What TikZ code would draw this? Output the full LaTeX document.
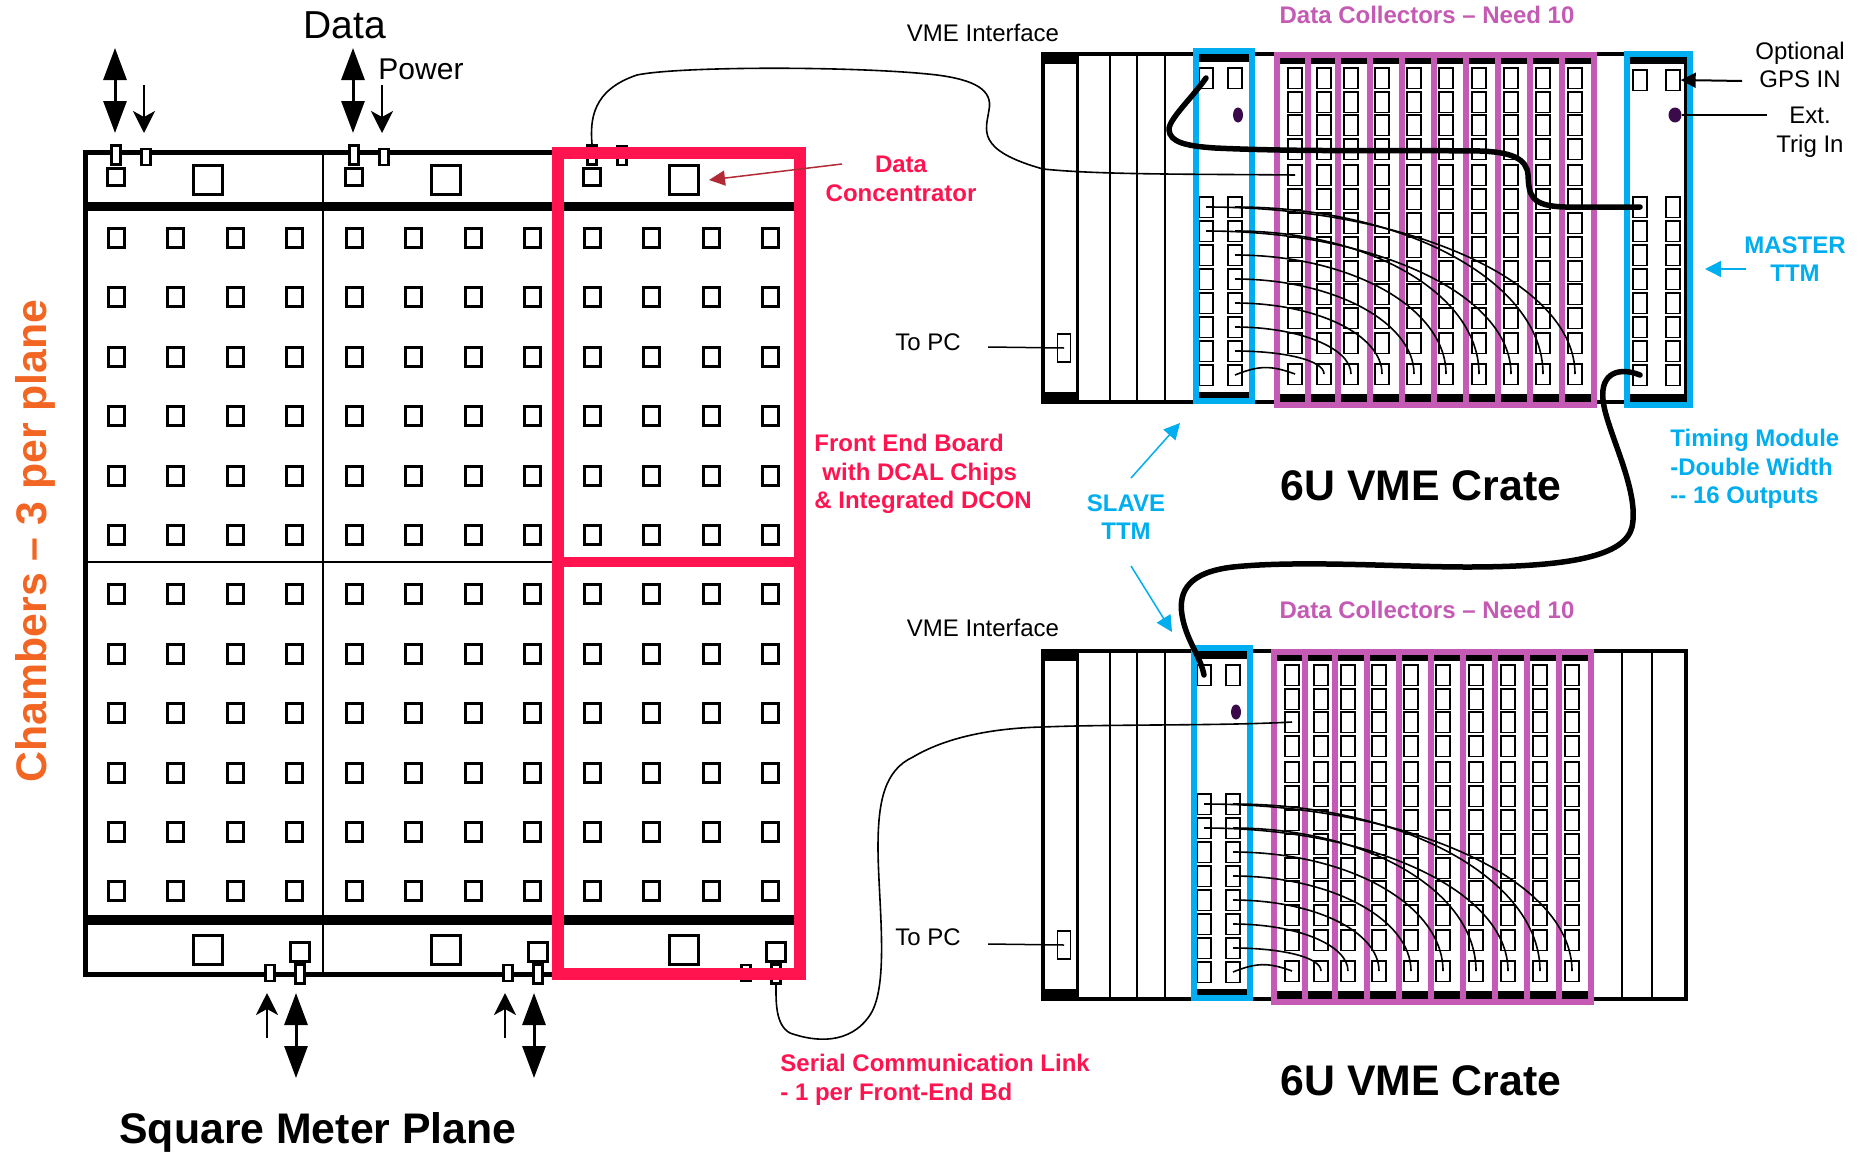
\documentclass[tikz,border=0pt]{standalone}
\usepackage{fontspec}
\setmainfont{Liberation Sans}
\usetikzlibrary{arrows.meta,shapes.geometric}
\definecolor{hotpink}{HTML}{FF1450}
\definecolor{ttmblue}{HTML}{00AEEF}
\definecolor{dcpurple}{HTML}{C45AB3}
\definecolor{chamberorange}{HTML}{F26522}
\definecolor{arrowred}{HTML}{B22A35}
\definecolor{dotpurple}{HTML}{3A0A4A}
\tikzset{
  feboard/.style={draw,line width=1.5pt,fill=white,inner sep=0pt,minimum width=8pt,minimum height=9.5pt},
  dcon/.style={draw,line width=1.5pt,fill=white,inner sep=0pt,minimum size=14.5pt},
  sqport/.style={draw,line width=1.5pt,fill=white,inner sep=0pt,minimum size=8.5pt},
  tabport/.style={draw,line width=1.25pt,fill=white,inner sep=0pt,minimum width=4.5pt,minimum height=9.5pt},
  slot/.style={draw,line width=.9pt,fill=white,inner sep=0pt,minimum width=6.75pt,minimum height=10.4pt},
  dot/.style={ellipse,fill=dotpurple,inner sep=0pt,minimum width=5pt,minimum height=7.5pt},
  wire/.style={line width=.8pt},
  cable/.style={line width=2.75pt,line cap=round},
  bigarrow/.style={line width=1.5pt,{Triangle[length=16pt,width=11.5pt]}-{Triangle[length=16pt,width=11.5pt]}},
  smallarrow/.style={line width=1pt,-{Stealth[length=11pt,width=11pt,inset=3pt]}},
  bluearrow/.style={ttmblue,line width=.75pt,-{Triangle[length=8pt,width=8pt]}},
  txt/.style={font=\fontsize{12}{14.25}\selectfont,inner sep=0pt,align=center},
  boldtxt/.style={txt,font=\fontsize{12}{14.25}\selectfont\bfseries},
  titletxt/.style={inner sep=0pt,font=\fontsize{21.4}{25}\selectfont\bfseries},
}
\begin{document}
\begin{tikzpicture}[x=.5pt,y=-.5pt]
  \useasboundingbox (0,0) rectangle (1866,1151);
  % square meter plane
  \draw[line width=2.5pt] (85,152) rectangle (800,974);
  \fill (85,202) rectangle (800,211);
  \fill (85,915) rectangle (800,925);
  \draw[line width=1pt] (323,152) -- (323,974) (558,152) -- (558,974) (85,562) -- (800,562);
  \foreach \i in {0,...,11}
    \foreach \j in {0,...,11}
      \node[feboard] (fe-\i-\j) at ({116+59.5*\i},{238+59.4*\j}) {};
  \foreach \x/\n/\h in {116/a/8,354/b/8,592/c/9.5} {
    \node[sqport] (topsq-\n) at (\x,177) {};
    \node[tabport] (toptab-\n) at (\x,155) {};
    \node[tabport,minimum height=\h pt,anchor=south] (toppow-\n) at ({\x+30},166) {};
    \node[dcon] (topdcon-\n) at ({\x+92},180) {};
  }
  \foreach \x/\n in {300/a,538/b,776/c} {
    \node[sqport,minimum size=9.5pt] (botsq-\n) at (\x,952) {};
    \node[tabport,minimum height=8pt] (botpow-\n) at ({\x-30},973) {};
    \node[tabport] (bottab-\n) at (\x,974) {};
    \node[dcon] (botdcon-\n) at ({\x-92},950) {};
  }
  \draw[hotpink,line width=6pt] (558,153) rectangle (800,974);
  \draw[hotpink,line width=5pt] (558,562) -- (800,562);
  % power and data arrows
  \foreach \x/\n in {115/a,353/b} {
    \coordinate (dup-\n) at (\x,48);
    \coordinate (ddown-\n) at (\x,133);
    \coordinate (pup-\n) at ({\x+29},85);
    \coordinate (pdown-\n) at ({\x+29},133);
    \draw[bigarrow] (dup-\n) -- (ddown-\n);
    \draw[smallarrow] (pup-\n) -- (pdown-\n);
  }
  \foreach \x/\n in {296/a,534/b} {
    \coordinate (bdup-\n) at (\x,993);
    \coordinate (bddown-\n) at (\x,1078);
    \coordinate (bptail-\n) at ({\x-29},1038);
    \coordinate (bptip-\n) at ({\x-29},993);
    \draw[bigarrow] (bdup-\n) -- (bddown-\n);
    \draw[smallarrow] (bptail-\n) -- (bptip-\n);
  }
  \node[font=\fontsize{19.5}{22}\selectfont,inner sep=0pt] (datatxt) at (345,25) {Data};
  \node[font=\fontsize{15}{18}\selectfont,inner sep=0pt] (powertxt) at (421,69) {Power};
  \node[titletxt] (planetxt) at (318,1132) {Square Meter Plane};
  \node[titletxt,chamberorange,rotate=90] (chambertxt) at (35,541) {Chambers -- 3 per plane};
  % crates, second one is the first one moved down
  \foreach \cr/\sx/\dx/\dy/\ty in {a/0/0/0/0,b/-2/-3/597/595} {
    \begin{scope}[shift={(0,\dy)}]
      \draw[line width=2pt,fill=white] (1043,54) rectangle (1686,402);
      \fill (1042,53) rectangle (1078,64);
      \fill (1042,392) rectangle (1078,403);
      \draw[line width=1.5pt] (1077,53) -- (1077,403);
      \draw[line width=.75pt] (1110,53) -- (1110,403) (1137,53) -- (1137,403) (1165,53) -- (1165,403);
      \node[draw,line width=.75pt,inner sep=0pt,minimum width=6.5pt,minimum height=14pt] (\cr-pc) at (1064,348) {};
      \coordinate (\cr-pcfree) at (988,347);
      \draw[line width=.75pt] (\cr-pcfree) -- (\cr-pc.center);
    \end{scope}
    \begin{scope}[shift={(0,\ty)}]
      \node[txt] (\cr-pctxt) at (928,342) {To PC};
      \node[txt] (\cr-vmetxt) at (983,33) {VME Interface};
      \node[boldtxt,dcpurple] (\cr-dctxt) at (1427,15) {Data Collectors -- Need 10};
      \node[titletxt] (\cr-cratetxt) at (1421,486) {6U VME Crate};
    \end{scope}
    \begin{scope}[shift={(\sx,\dy)}]
      % slave ttm
      \fill[black] (1198,54) rectangle (1252,62);
      \fill[black] (1198,392) rectangle (1252,398);
      \node[slot] (\cr-sltop-1) at (1206,78) {};
      \node[slot] (\cr-sltop-2) at (1235,78) {};
      \node[dot] (\cr-sldot) at (1238,115) {};
      \foreach \y [count=\j] in {207,231,255,279,303,327,351,375} {
        \node[slot] (\cr-sll-\j) at (1206,\y) {};
        \node[slot] (\cr-slr-\j) at (1235,\y) {};
      }
      \draw[ttmblue,line width=3pt] (1196,51) rectangle (1252,401);
    \end{scope}
    \begin{scope}[shift={(\dx,\dy)}]
      % data collectors
      \fill[black] (1277,58) rectangle (1594,64);
      \fill[black] (1277,394) rectangle (1594,402);
      \foreach \x [count=\i] in {1295,1324,1351,1382,1414,1446,1479,1511,1543,1575}
        \foreach \y [count=\j] in {78,102,125,149,175,199,223,247,271,294,318,343,374}
          \node[slot] (\cr-dc-\i-\j) at (\x,\y) {};
      \draw[dcpurple,line width=3pt] (1277,55) rectangle (1594,405);
      \foreach \x in {1308,1338,1370,1402,1434,1466,1498,1530,1562}
        \draw[dcpurple,line width=3.25pt] (\x,55) -- (\x,405);
      \foreach \s/\i/\o/\e in {sll-1/10/101/46,slr-1/9/85/46,sll-2/8/84/40,slr-2/7/67/40,slr-3/6/58/33,slr-4/5/49/26,slr-5/4/40/20,slr-6/3/32/13,slr-7/2/24/7}
        \draw[wire] (\cr-\s.center) to[out=0,in=90,out distance=\o pt,in distance=\e pt] (\cr-dc-\i-13.center);
      \draw[wire] (\cr-slr-8.center) to[out=22,in=160,looseness=1.1] (\cr-dc-1-13.center);
    \end{scope}
  }
  % master ttm
  \fill[black] (1630,57) rectangle (1688,64);
  \fill[black] (1630,394) rectangle (1688,401);
  \node[slot] (ma-top-1) at (1640,80) {};
  \node[slot] (ma-top-2) at (1673,80) {};
  \node[dot,minimum width=6.5pt] (ma-dot) at (1675,115) {};
  \foreach \y [count=\j] in {207,231,255,279,303,327,351,375} {
    \node[slot] (ma-l-\j) at (1640,\y) {};
    \node[slot] (ma-r-\j) at (1673,\y) {};
  }
  \draw[ttmblue,line width=3pt] (1627,54) rectangle (1690,405);
  % right side of the second crate
  \draw[line width=.75pt] (1622,651) -- (1622,999) (1652,651) -- (1652,999);
  % labels of the master
  \node[txt] (gpstxt) at (1800,65) {Optional\\GPS IN};
  \node[txt] (trigtxt) at (1810,132) {Ext.\\Trig In};
  \coordinate (gpsfree) at (1742,81);
  \coordinate (trigfree) at (1767,115);
  \draw[line width=1pt,-{Triangle[length=7.5pt,width=7.5pt]}] (gpsfree) -- (ma-top-2.east);
  \draw[line width=1pt] (trigfree) -- (ma-dot);
  \node[boldtxt,ttmblue] (mastertxt) at (1795,259) {MASTER\\TTM};
  \coordinate (mastail) at (1746,269);
  \coordinate (mastip) at (1705,269);
  \draw[bluearrow] (mastail) -- (mastip);
  \node[boldtxt,ttmblue,align=left,anchor=west] (timingtxt) at (1670,469) {Timing Module\\-Double Width\\{-}{-} 16 Outputs};
  \node[boldtxt,ttmblue] (slavetxt) at (1126,517) {SLAVE\\TTM};
  \coordinate (sltail-a) at (1131,478);
  \coordinate (sltip-a) at (1180,423);
  \coordinate (sltail-b) at (1131,566);
  \coordinate (sltip-b) at (1172,632);
  \draw[bluearrow] (sltail-a) -- (sltip-a);
  \draw[bluearrow] (sltail-b) -- (sltip-b);
  % labels of the plane
  \node[boldtxt,hotpink] (conctxt) at (901,179) {Data\\Concentrator};
  \coordinate (conctail) at (842,164);
  \coordinate (conctip) at (709,180);
  \draw[arrowred,line width=.75pt,-{Triangle[length=8pt,width=7.5pt]}] (conctail) -- (conctip);
  \node[boldtxt,hotpink,align=left,anchor=west] (febtxt) at (814,474) {Front End Board\\\hspace{4pt}with DCAL Chips\\\& Integrated DCON};
  \node[boldtxt,hotpink,align=left,anchor=west] (serialtxt) at (780,1080) {Serial Communication Link\\- 1 per Front-End Bd};
  % cables
  \draw[wire] (toptab-c.north) .. controls (590,120) and (592,90) .. (637,75)
    .. controls (680,66) and (860,66) .. (937,75)
    .. controls (975,80) and (993,90) .. (989,110)
    .. controls (986,130) and (975,150) .. (1043,169)
    .. controls (1100,175) and (1200,174) .. (a-dc-1-5.center);
  \draw[wire] (bottab-c.south) .. controls (776,1000) and (775,1025) .. (790,1033)
    .. controls (815,1042) and (850,1045) .. (870,1015)
    .. controls (890,985) and (878,900) .. (878,847)
    .. controls (878,800) and (885,770) .. (913,757)
    .. controls (950,735) and (1000,728) .. (1042,727)
    .. controls (1120,724) and (1220,726) .. (b-dc-1-3.center);
  \draw[cable] (a-sltop-1.center) .. controls (1192,98) and (1168,120) .. (1169,130)
    .. controls (1170,142) and (1185,146) .. (1215,148)
    .. controls (1300,152) and (1400,150) .. (1480,151)
    .. controls (1510,152) and (1527,158) .. (1528,175)
    .. controls (1529,195) and (1530,206) .. (1565,207)
    -- (ma-l-1.center);
  \draw[cable] (ma-l-8.center) .. controls (1620,367) and (1600,372) .. (1603,400)
    .. controls (1606,430) and (1640,490) .. (1632,527)
    .. controls (1625,556) and (1570,567) .. (1467,567)
    .. controls (1400,567) and (1300,560) .. (1233,567)
    .. controls (1190,572) and (1178,590) .. (1182,615)
    .. controls (1186,640) and (1200,655) .. (b-sltop-1.center);
\end{tikzpicture}
\end{document}
